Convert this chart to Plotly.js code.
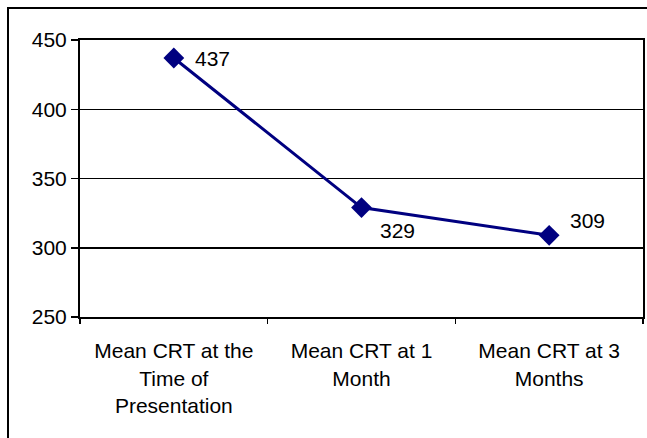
<!DOCTYPE html>
<html>
<head>
<meta charset="utf-8">
<script src="https://cdn.plot.ly/plotly-3.0.1.min.js"></script>
<style>
html,body{margin:0;padding:0;background:#fff;}
#wrap{position:relative;width:647px;height:438px;overflow:hidden;}
#chart{position:absolute;left:0;top:0;width:647px;height:438px;}
#frame{position:absolute;left:7px;top:7px;width:700px;height:500px;border-left:2px solid #000;border-top:2px solid #000;pointer-events:none;}
</style>
</head>
<body>
<div id="wrap"><div id="chart"></div><div id="frame"></div></div>
<script>
var categories = ["Mean CRT at the<br>Time of<br>Presentation", "Mean CRT at 1<br>Month", "Mean CRT at 3<br>Months"];
var crtValues = [437, 329, 309];
var labelShiftX = [19, 16, 19];
var labelShiftY = [0, -23, 15];
var yTicks = [250, 300, 350, 400, 450];

var font = {family: "Liberation Sans, Arial, sans-serif", size: 21, color: "#000"};

var trace = {
  x: categories,
  y: crtValues,
  type: "scatter",
  mode: "lines+markers",
  line: {color: "#000080", width: 3},
  marker: {symbol: "diamond", size: 16, color: "#000080"},
  cliponaxis: false,
  hoverinfo: "none"
};

var annotations = categories.map(function (c, i) {
  return {
    x: c, y: crtValues[i], xref: "x", yref: "y",
    text: String(crtValues[i]),
    showarrow: false,
    xanchor: "left", yanchor: "middle",
    xshift: labelShiftX[i], yshift: labelShiftY[i],
    font: font
  };
});

var layout = {
  width: 647, height: 438,
  margin: {l: 80, r: 4, t: 40, b: 121},
  paper_bgcolor: "#fff", plot_bgcolor: "#fff",
  showlegend: false,
  font: font,
  annotations: annotations,
  xaxis: {
    type: "category",
    range: [-0.5, 2.5],
    showline: true, linecolor: "#000", linewidth: 2, mirror: true,
    showgrid: false,
    ticks: "outside", tickson: "boundaries", ticklen: 5, tickcolor: "#000", tickwidth: 1.5,
    ticklabelstandoff: 14,
    tickfont: font,
    zeroline: false,
    fixedrange: true
  },
  yaxis: {
    range: [250, 450],
    tickvals: yTicks,
    ticktext: yTicks.map(String),
    showline: true, linecolor: "#000", linewidth: 2, mirror: true,
    showgrid: true, gridcolor: "#000", gridwidth: 1.5,
    ticks: "outside", ticklen: 7, tickcolor: "#000", tickwidth: 1.5,
    ticklabelstandoff: 0,
    tickfont: font,
    zeroline: false,
    fixedrange: true
  }
};

Plotly.newPlot("chart", [trace], layout, {displayModeBar: false, staticPlot: true});
</script>
</body>
</html>
